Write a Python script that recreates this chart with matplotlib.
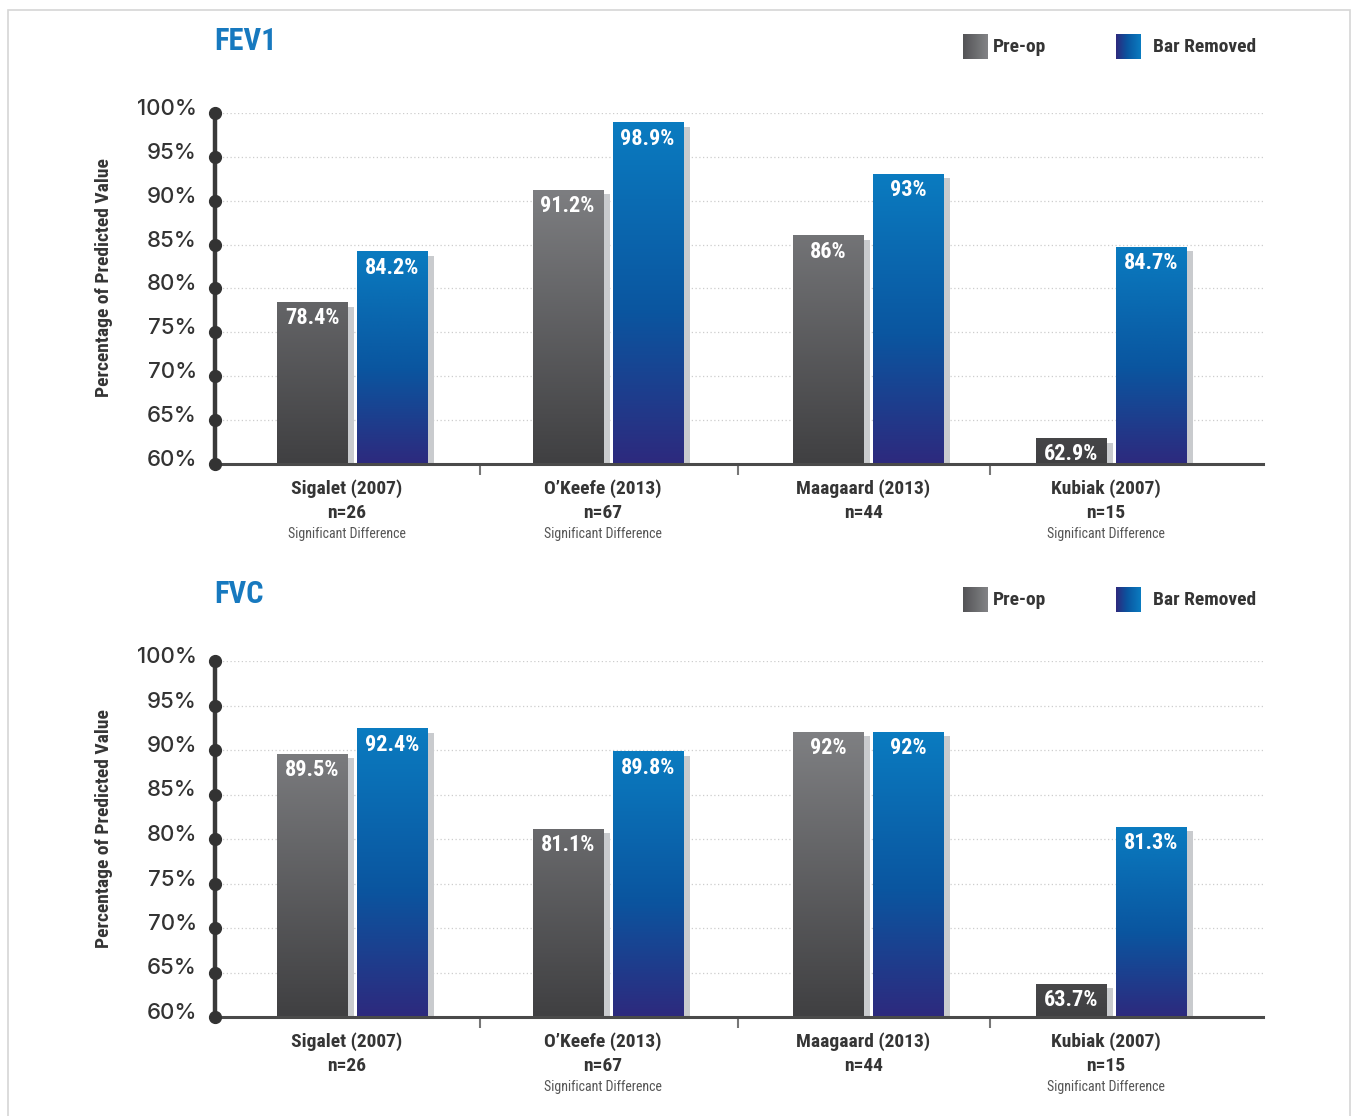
import numpy as np
import matplotlib
matplotlib.use('Agg')
import matplotlib.pyplot as plt
from matplotlib import font_manager
from matplotlib.colors import LinearSegmentedColormap
from matplotlib.patches import Rectangle
from matplotlib.transforms import ScaledTranslation

# study results, % of predicted value
studies = ['Sigalet (2007)', 'O\u2019Keefe (2013)', 'Maagaard (2013)', 'Kubiak (2007)']
sizes = ['n=26', 'n=67', 'n=44', 'n=15']
fev1_preop = [78.4, 91.2, 86, 62.9]
fev1_removed = [84.2, 98.9, 93, 84.7]
fev1_signif = [True, True, False, True]
fvc_preop = [89.5, 81.1, 92, 63.7]
fvc_removed = [92.4, 89.8, 92, 81.3]
fvc_signif = [False, True, False, True]
yticks = [60, 65, 70, 75, 80, 85, 90, 95, 100]
series_names = ['Pre-op', 'Bar Removed']

W, H = 1353, 1116

installed = {f.name for f in font_manager.fontManager.ttflist}
NARROW = 'DejaVu Sans'
for cand in ['Roboto Condensed', 'Liberation Sans Narrow', 'Open Sans Condensed', 'Roboto']:
    if cand in installed:
        NARROW = cand
        break
TICKFONT = 'Inter' if 'Inter' in installed else 'DejaVu Sans'

BLUE_TITLE = '#1779bf'
DARK = '#353535'

grey_cmap = LinearSegmentedColormap.from_list('preop', ['#404042', '#8e8f92'])
blue_cmap = LinearSegmentedColormap.from_list(
    'removed', [(0, '#2d2a7e'), (0.45, '#0a56a0'), (1, '#0a7bc0')])

fig = plt.figure(figsize=(W / 100, H / 100), dpi=100)


def frac(x, y):
    return x / W, 1 - y / H


def add_ax(left, top, right, bottom):
    return fig.add_axes([left / W, 1 - bottom / H, (right - left) / W, (bottom - top) / H])


XLIM = (-0.5415, 3.60)
# group centres along the x axis (slightly uneven spacing)
GX = [0, 1.01, 2.04, 3.0]
BW = 0.277
OFF = 0.158
px_per_unit = 1048 / (XLIM[1] - XLIM[0])


def draw_panel(ax, title, top_px, preop, removed, signif):
    ax.set_xlim(*XLIM)
    ax.set_ylim(60, 100)
    ppy = ax.get_window_extent().height / 40
    dx = 7 / px_per_unit
    dy = 4 / ppy
    for i in range(len(studies)):
        for j, v in enumerate([preop[i], removed[i]]):
            x = GX[i] + (OFF if j else -OFF)
            ax.add_patch(Rectangle((x - BW / 2 + dx, 60), BW, v - 60 - dy,
                                   color='#c9cbce', lw=0, zorder=1.5))
            if j == 0:
                grad = np.linspace(0, (v - 60) / 40, 80).reshape(-1, 1)
                cmap = grey_cmap
            else:
                grad = np.linspace(0, 1, 80).reshape(-1, 1)
                cmap = blue_cmap
            ax.imshow(grad, cmap=cmap, vmin=0, vmax=1, origin='lower', aspect='auto',
                      extent=(x - BW / 2, x + BW / 2, 60, v), zorder=2, interpolation='bilinear')
            ax.annotate(f'{v:g}%', xy=(x, v), xytext=(0, -3.5), textcoords='offset points',
                        ha='center', va='top', color='white', fontsize=16,
                        fontweight='bold', family=NARROW, zorder=4)
        cx = GX[i] - 0.02
        ax.annotate(studies[i], xy=(cx, 0), xycoords=('data', 'axes fraction'),
                    xytext=(0, -18), textcoords='offset points', ha='center', va='center',
                    fontsize=14, fontweight='bold', color=DARK, family=NARROW)
        ax.annotate(sizes[i], xy=(cx, 0), xycoords=('data', 'axes fraction'),
                    xytext=(0, -35), textcoords='offset points', ha='center', va='center',
                    fontsize=14, fontweight='bold', color=DARK, family=NARROW)
        if signif[i]:
            ax.annotate('Significant Difference', xy=(cx, 0), xycoords=('data', 'axes fraction'),
                        xytext=(0, -50.5), textcoords='offset points', ha='center', va='center',
                        fontsize=10, color='#555555', family=NARROW)
    ax.set_xlim(*XLIM)
    ax.set_ylim(60, 100)

    for s in ['top', 'right']:
        ax.spines[s].set_visible(False)
    ax.spines['left'].set_color('#3a3a3a')
    ax.spines['left'].set_linewidth(3.2)
    ax.spines['bottom'].set_color('#4a4a4a')
    ax.spines['bottom'].set_linewidth(2.2)
    ax.set_yticks(yticks)
    ax.set_yticklabels([f'{t}%' for t in yticks], fontsize=16, color='#333333',
                       family=TICKFONT, fontweight='medium')
    ax.tick_params(axis='y', length=0, pad=13)
    for lab in ax.get_yticklabels():
        lab.set_transform(lab.get_transform() + ScaledTranslation(0, 6 / 100, fig.dpi_scale_trans))
    ax.yaxis.grid(True, linestyle=(0, (1, 2)), color='#cdcdcd', lw=0.9)
    ax.set_axisbelow(True)
    ax.set_xticks([(GX[k] + GX[k + 1]) / 2 for k in range(3)])
    ax.set_xticklabels([])
    ax.tick_params(axis='x', length=8, width=1.5, color='#777777', direction='out')
    ax.plot([XLIM[0]] * len(yticks), yticks, 'o', ms=8.5, color='#333333',
            clip_on=False, zorder=6)

    ax.set_ylabel('Percentage of Predicted Value', fontsize=14, fontweight='bold',
                  color=DARK, family=NARROW, labelpad=0)
    ax.yaxis.set_label_coords(-0.097, 0.53)

    # title and legend row
    fig.text(*frac(214, top_px), title, fontsize=22, fontweight='bold', color=BLUE_TITLE,
             family=NARROW, ha='left', va='center')
    for (sx, tx), name, cmap in zip([(963, 993), (1116, 1153)], series_names,
                                    [grey_cmap, blue_cmap]):
        sw = add_ax(sx, top_px - 7, sx + 25, top_px + 18)
        grad = np.linspace(0.25, 0.85, 40).reshape(1, -1) if cmap is grey_cmap \
            else np.linspace(0, 1, 40).reshape(1, -1)
        sw.imshow(grad, cmap=cmap, vmin=0, vmax=1, aspect='auto', interpolation='bilinear')
        sw.axis('off')
        fig.text(*frac(tx, top_px + 6), name, fontsize=14, fontweight='bold', color=DARK,
                 family=NARROW, ha='left', va='center')


ax1 = add_ax(215, 113, 1263, 464)
draw_panel(ax1, 'FEV1', 41, fev1_preop, fev1_removed, fev1_signif)
ax2 = add_ax(215, 661, 1263, 1017)
draw_panel(ax2, 'FVC', 594, fvc_preop, fvc_removed, fvc_signif)

fig.add_artist(Rectangle((8 / W, -0.01), 1342 / W, 1 - 10 / H + 0.01, transform=fig.transFigure,
                         fill=False, edgecolor='#d6d6d6', lw=1.2))

fig.savefig('out.png', dpi=100, facecolor='white')
